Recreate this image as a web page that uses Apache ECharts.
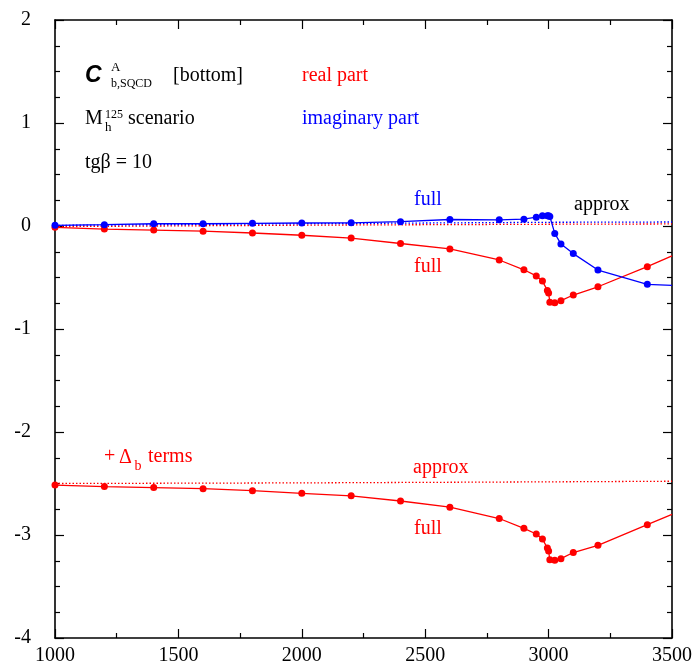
<!DOCTYPE html>
<html>
<head>
<meta charset="utf-8">
<script src="https://cdn.jsdelivr.net/npm/echarts@6/dist/echarts.min.js"></script>
<style>
  html, body { margin: 0; padding: 0; background: #fff; }
  #chart { width: 698px; height: 670px; }
</style>
</head>
<body>
<div id="chart"></div>
<script>
// M_A grid (GeV) on which the full results were computed
const mA = [1000, 1200, 1400, 1600, 1800, 2000, 2200, 2400, 2600, 2800, 2900, 2950, 2975,
            2995, 3000, 3005, 3025, 3050, 3100, 3200, 3400, 3500];
// full result, real part
const reFull = [-0.013, -0.03, -0.04, -0.05, -0.068, -0.09, -0.117, -0.17, -0.223, -0.33, -0.425,
                -0.485, -0.535, -0.625, -0.65, -0.74, -0.745, -0.725, -0.67, -0.59, -0.395, -0.29];
// full result, imaginary part
const imFull = [0.007, 0.013, 0.022, 0.022, 0.026, 0.029, 0.031, 0.042, 0.063, 0.060, 0.066,
                0.086, 0.10, 0.10, 0.10, 0.092, -0.072, -0.175, -0.268, -0.428, -0.566, -0.576];
// full result, real part including the Delta_b terms
const reDbFull = [-2.515, -2.53, -2.54, -2.55, -2.57, -2.595, -2.62, -2.67, -2.73, -2.84, -2.935,
                  -2.99, -3.04, -3.125, -3.155, -3.24, -3.245, -3.23, -3.17, -3.10, -2.90, -2.80];

// approximation (evaluated on a coarse grid)
const mAApprox = [1000, 2000, 3000, 3500];
const reApprox = [-0.006, 0.008, 0.017, 0.02];
const imApprox = [0.006, 0.022, 0.036, 0.039];
const reDbApprox = [-2.50, -2.494, -2.484, -2.478];

const xTicks = { min: 1000, max: 3500, step: 500 };
const yTicks = { min: -4, max: 2, step: 1 };

const RED = '#ff0000', BLUE = '#0000ff';
const SERIF = "'Liberation Serif', 'DejaVu Serif', serif";

function pairs(xs, ys, lastBare) {
  return xs.map((x, i) => {
    const item = { value: [x, ys[i]] };
    if (lastBare && i === xs.length - 1) item.symbol = 'none';
    return item;
  });
}

function fullSeries(ys, color) {
  return {
    type: 'line', data: pairs(mA, ys, true), symbol: 'circle', symbolSize: 7,
    lineStyle: { color, width: 1.3 }, itemStyle: { color }, z: 3, animation: false
  };
}
function approxSeries(ys, color) {
  return {
    type: 'line', data: pairs(mAApprox, ys, false), showSymbol: false, symbol: 'none',
    lineStyle: { color, width: 1.3, type: [1.5, 2] }, z: 2, animation: false
  };
}

const axisLine = { show: true, onZero: false, lineStyle: { color: '#000', width: 1.6 } };
function xAxis(pos, labels) {
  return {
    type: 'value', position: pos, min: xTicks.min, max: xTicks.max, interval: xTicks.step,
    axisLine, splitLine: { show: false },
    axisTick: { show: true, inside: true, length: 9, lineStyle: { color: '#000', width: 1.2 } },
    minorTick: { show: true, splitNumber: 2, length: 5, lineStyle: { color: '#000', width: 1.2 } },
    axisLabel: { show: labels, fontFamily: SERIF, fontSize: 20, color: '#000', margin: 8,
                 formatter: v => String(v) }
  };
}
function yAxis(pos, labels) {
  return {
    type: 'value', position: pos, min: yTicks.min, max: yTicks.max, interval: yTicks.step,
    axisLine, splitLine: { show: false },
    axisTick: { show: true, inside: true, length: 9, lineStyle: { color: '#000', width: 1.2 } },
    minorTick: { show: true, splitNumber: 4, length: 5, lineStyle: { color: '#000', width: 1.2 } },
    axisLabel: { show: labels, fontFamily: SERIF, fontSize: 20, color: '#000', margin: 24,
                 formatter: v => String(v) }
  };
}

function txt(x, y, text, size, color, font) {
  return {
    type: 'text', x, y, z: 10, silent: true,
    style: { text, font: (font || '') + ' ' + size + 'px ' + SERIF, fill: color || '#000',
             align: 'left', verticalAlign: 'middle' }
  };
}

const labels = [
  { type: 'text', x: 85, y: 76, z: 10, silent: true,
    style: { text: 'C', font: "italic bold 23px 'Liberation Sans', Arial, sans-serif", fill: '#000',
             align: 'left', verticalAlign: 'middle' } },
  txt(111, 68, 'A', 13),
  txt(111, 84, 'b,SQCD', 12),
  txt(173, 76, '[bottom]', 20),
  txt(302, 75.5, 'real part', 20, RED),
  txt(85, 118.5, 'M', 20),
  txt(105, 114.5, '125', 12),
  txt(105, 128, 'h', 13),
  txt(128, 118.5, 'scenario', 20),
  txt(302, 119, 'imaginary part', 20, BLUE),
  txt(85, 162.5, 'tgβ = 10', 20),
  txt(414, 200, 'full', 20, BLUE),
  txt(574, 205, 'approx', 20),
  txt(414, 266.5, 'full', 20, RED),
  txt(104, 457, '+', 20, RED),
  txt(119, 458, 'Δ', 20, RED),
  txt(134.5, 466, 'b', 14, RED),
  txt(148, 457, 'terms', 20, RED),
  txt(413, 468, 'approx', 20, RED),
  txt(414, 528.5, 'full', 20, RED)
];

const chart = echarts.init(document.getElementById('chart'), null, { renderer: 'canvas' });
chart.setOption({
  animation: false,
  backgroundColor: '#fff',
  grid: { left: 55, right: 26, top: 20, bottom: 32 },
  xAxis: [xAxis('bottom', true), xAxis('top', false)],
  yAxis: [yAxis('left', true), yAxis('right', false)],
  series: [
    approxSeries(reApprox, RED),
    approxSeries(imApprox, BLUE),
    approxSeries(reDbApprox, RED),
    fullSeries(reFull, RED),
    fullSeries(imFull, BLUE),
    fullSeries(reDbFull, RED)
  ],
  graphic: labels
});
</script>
</body>
</html>
